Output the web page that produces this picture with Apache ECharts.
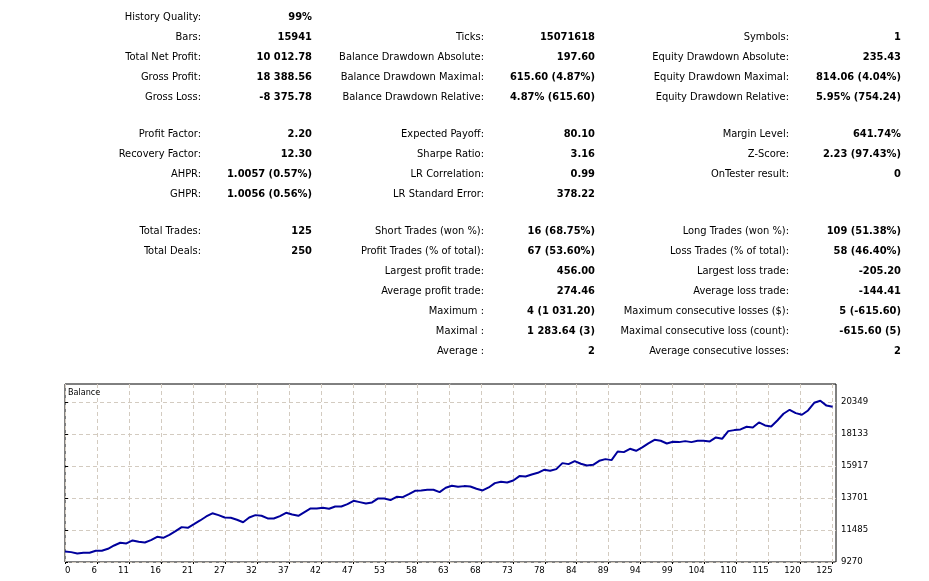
<!DOCTYPE html>
<html>
<head>
<meta charset="utf-8">
<title>Strategy Tester Report</title>
<script src="https://cdn.jsdelivr.net/npm/echarts@6.0.0/dist/echarts.min.js"></script>
<style>
html,body{margin:0;padding:0;background:#fff;}
#page{position:relative;width:929px;height:581px;overflow:hidden;}
#main{position:absolute;left:0;top:0;width:929px;height:581px;}
.lb,.vl{position:absolute;height:20px;line-height:20px;white-space:nowrap;text-align:right;color:#000;
  font-family:"DejaVu Sans Condensed","DejaVu Sans",sans-serif;font-size:11px;}
.vl{font-weight:bold;}
</style>
</head>
<body>
<div id="page">
  <div id="main"></div>
</div>
<script>
// balance after each trade (0 = initial deposit)
var balance = [
  10000, 9954, 9862, 9908, 9908, 10046, 10046, 10185, 10415, 10600,
  10554, 10762, 10669, 10623, 10785, 11015, 10946, 11154, 11408, 11685,
  11639, 11892, 12146, 12423, 12640, 12516, 12354, 12331, 12193, 12025,
  12354, 12516, 12470, 12285, 12285, 12447, 12677, 12562, 12470, 12724,
  12977, 12977, 13024, 12954, 13116, 13116, 13277, 13508, 13416, 13324,
  13393, 13670, 13670, 13555, 13785, 13762, 13970, 14201, 14224, 14270,
  14270, 14108, 14408, 14550, 14478, 14524, 14501, 14340, 14224, 14432,
  14732, 14824, 14778, 14917, 15217, 15193, 15332, 15447, 15655, 15586,
  15701, 16117, 16047, 16255, 16071, 15955, 16001, 16278, 16394, 16324,
  16924, 16878, 17109, 16970, 17201, 17478, 17732, 17663, 17478, 17594,
  17571, 17640, 17571, 17663, 17663, 17617, 17894, 17802, 18332, 18402,
  18448, 18633, 18586, 18933, 18725, 18656, 19071, 19533, 19810, 19579,
  19463, 19763, 20294, 20433, 20100, 20013
];
// axis tick labels as printed by the tester
var xLabels = [0, 6, 11, 16, 21, 27, 32, 37, 42, 47, 53, 58, 63, 68, 73, 78, 84, 89, 94, 99, 104, 110, 115, 120, 125];
var yTicks = [9270, 11485, 13701, 15917, 18133, 20349];

// report table: [label, value]
var col1 = [
  ['History Quality:', '99%'], ['Bars:', '15941'], ['Total Net Profit:', '10 012.78'],
  ['Gross Profit:', '18 388.56'], ['Gross Loss:', '-8 375.78'], null,
  ['Profit Factor:', '2.20'], ['Recovery Factor:', '12.30'], ['AHPR:', '1.0057 (0.57%)'],
  ['GHPR:', '1.0056 (0.56%)'], null,
  ['Total Trades:', '125'], ['Total Deals:', '250']
];
var col2 = [
  null, ['Ticks:', '15071618'], ['Balance Drawdown Absolute:', '197.60'],
  ['Balance Drawdown Maximal:', '615.60 (4.87%)'], ['Balance Drawdown Relative:', '4.87% (615.60)'], null,
  ['Expected Payoff:', '80.10'], ['Sharpe Ratio:', '3.16'], ['LR Correlation:', '0.99'],
  ['LR Standard Error:', '378.22'], null,
  ['Short Trades (won %):', '16 (68.75%)'], ['Profit Trades (% of total):', '67 (53.60%)'],
  ['Largest profit trade:', '456.00'], ['Average profit trade:', '274.46'],
  ['Maximum :', '4 (1 031.20)'], ['Maximal :', '1 283.64 (3)'], ['Average :', '2']
];
var col3 = [
  null, ['Symbols:', '1'], ['Equity Drawdown Absolute:', '235.43'],
  ['Equity Drawdown Maximal:', '814.06 (4.04%)'], ['Equity Drawdown Relative:', '5.95% (754.24)'], null,
  ['Margin Level:', '641.74%'], ['Z-Score:', '2.23 (97.43%)'], ['OnTester result:', '0'],
  null, null,
  ['Long Trades (won %):', '109 (51.38%)'], ['Loss Trades (% of total):', '58 (46.40%)'],
  ['Largest loss trade:', '-205.20'], ['Average loss trade:', '-144.41'],
  ['Maximum consecutive losses ($):', '5 (-615.60)'], ['Maximal consecutive loss (count):', '-615.60 (5)'],
  ['Average consecutive losses:', '2']
];

var FONT = '"DejaVu Sans Condensed","DejaVu Sans",sans-serif';

function rowTop(r){ // rows of 20px, groups separated by an extra gap
  var y = 7 + r * 20;
  if (r > 5) y += 17 - 20;
  if (r > 10) y += 17 - 20;
  return y;
}

function putCol(rows, labelRight, valueRight){
  var page = document.getElementById('page');
  for (var r = 0; r < rows.length; r++) {
    if (!rows[r]) continue;
    var l = document.createElement('div');
    l.className = 'lb';
    l.style.right = (929 - labelRight) + 'px';
    l.style.top = rowTop(r) + 'px';
    l.textContent = rows[r][0];
    page.appendChild(l);
    var v = document.createElement('div');
    v.className = 'vl';
    v.style.right = (929 - valueRight) + 'px';
    v.style.top = rowTop(r) + 'px';
    v.textContent = rows[r][1];
    page.appendChild(v);
  }
}

putCol(col1, 201, 312);
putCol(col2, 484, 595);
putCol(col3, 789, 901);

var lastTrade = xLabels[xLabels.length - 1];
var xStep = lastTrade / (xLabels.length - 1);
var xTickPos = xLabels.map(function(d, k){ return k * xStep; });

var seriesData = balance.map(function(v, i){ return [i, v]; });

var option = {
  animation: false,
  title: {
    text: 'Balance',
    left: 68,
    top: 388,
    padding: 0,
    textStyle: {fontSize: 9, fontWeight: 'normal', fontFamily: FONT, color: '#000'}
  },
  grid: {
    left: 65, top: 384, width: 771, height: 178,
    show: true, borderColor: '#000', borderWidth: 1, backgroundColor: '#fff'
  },
  xAxis: {
    type: 'value',
    min: 0,
    max: 125.55,
    axisLine: {show: false},
    axisTick: {show: true, length: 2, customValues: xTickPos, lineStyle: {color: '#000'}},
    axisLabel: {
      customValues: xTickPos,
      formatter: function(v){
        var k = Math.round(v / xStep);
        return xLabels[k] == null ? '' : String(xLabels[k]);
      },
      align: 'right',
      alignMinLabel: 'left',
      margin: 4,
      fontSize: 9.5,
      fontFamily: FONT,
      color: '#000'
    },
    splitLine: {show: true, lineStyle: {type: [4, 3], color: '#d3cbc0', width: 1}}
  },
  yAxis: {
    type: 'value',
    position: 'right',
    min: 9270,
    max: 21595,
    axisLine: {show: false},
    axisTick: {show: true, length: 3, customValues: yTicks, lineStyle: {color: '#000'}},
    axisLabel: {
      customValues: yTicks,
      formatter: function(v){ return String(v); },
      margin: 5, fontSize: 9.5, fontFamily: FONT, color: '#000'
    },
    splitLine: {show: true, lineStyle: {type: [4, 3], color: '#d3cbc0', width: 1}}
  },
  series: [
    {
      name: 'Balance',
      type: 'line',
      data: seriesData,
      showSymbol: false,
      silent: true,
      lineStyle: {color: '#00009c', width: 2}
    }
  ]
};

var myChart = echarts.init(document.getElementById('main'));
myChart.setOption(option);
</script>
</body>
</html>
